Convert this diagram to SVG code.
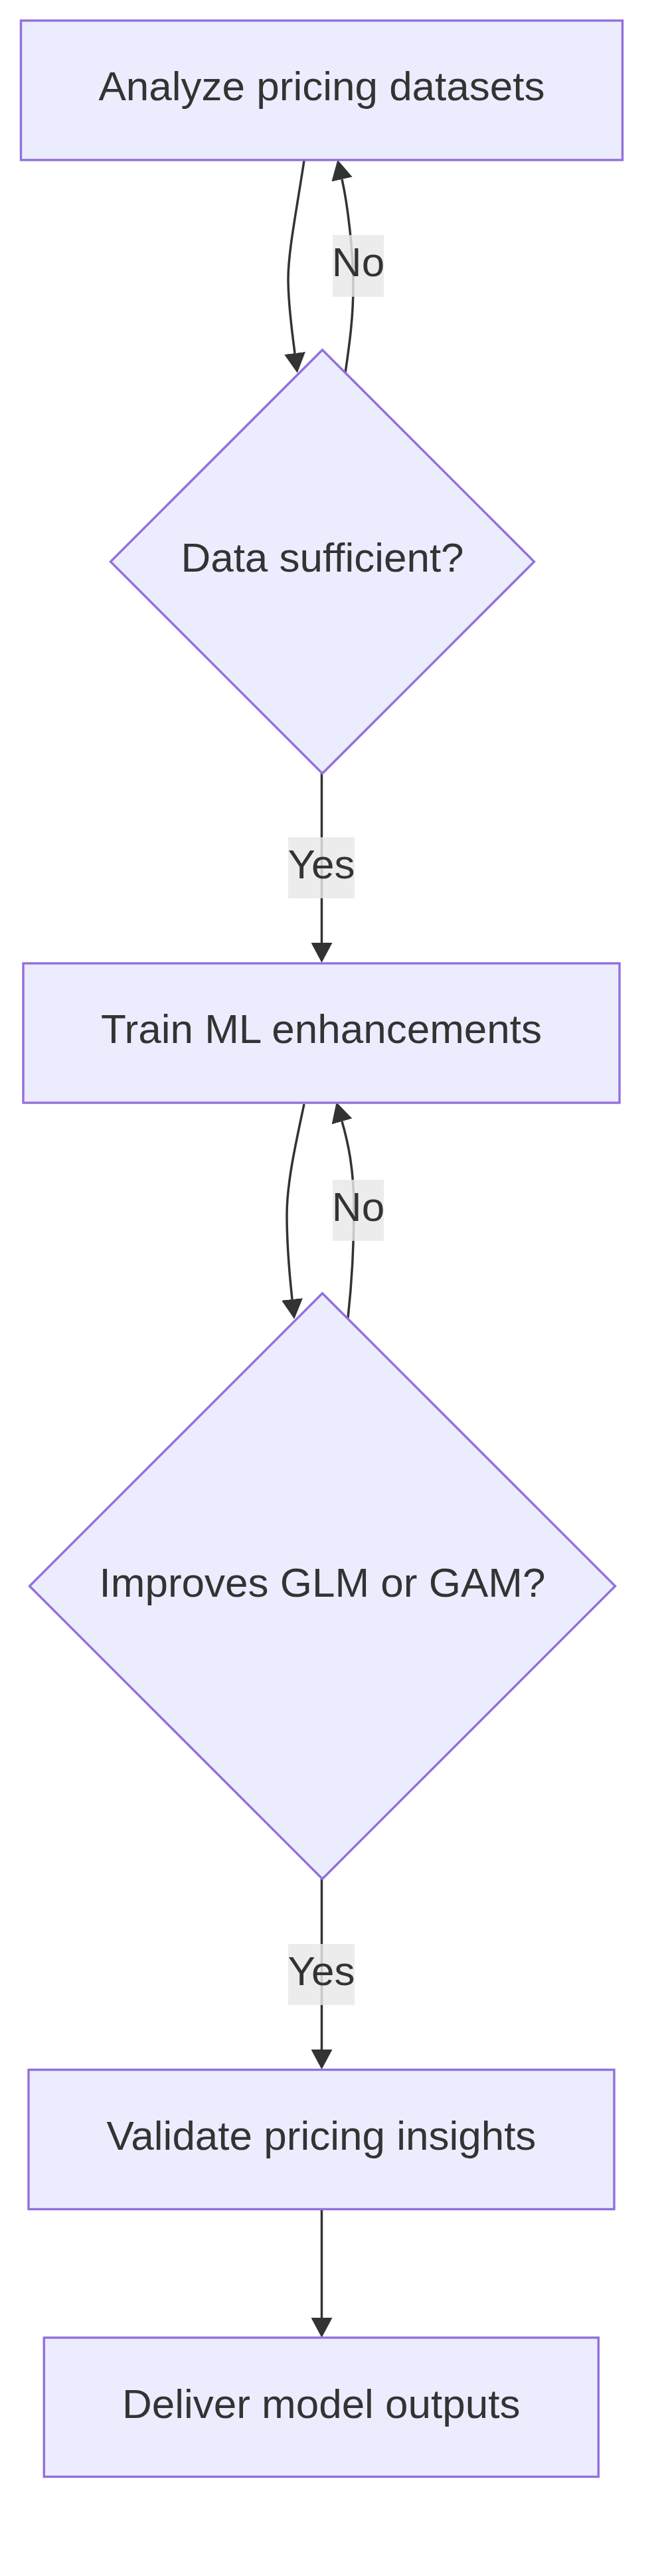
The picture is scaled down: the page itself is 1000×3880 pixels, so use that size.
<svg xmlns="http://www.w3.org/2000/svg" width="1000" height="3880" viewBox="0 0 1000 3880">
<style>
.node{fill:#ECECFF;stroke:#9370DB;stroke-width:3.4}
.lbl{font-family:"Liberation Sans",Arial,sans-serif;font-size:62px;fill:#333333;text-anchor:middle}
.edge{fill:none;stroke:#333333;stroke-width:3.5}
.elbg{fill:#e8e8e8;fill-opacity:0.82}
</style>
<defs>
<marker id="arrow" markerUnits="userSpaceOnUse" markerWidth="30" markerHeight="32" viewBox="0 0 30 32" refX="0" refY="16" orient="auto">
<path d="M0,0 L30,16 L0,32 z" fill="#333333"/>
</marker>
</defs>
<rect width="1000" height="3880" fill="#ffffff"/>
<g id="connectors">
<path class="edge" d="M458,242 C446,320 434,380 434,420 C434,460 440,500 444,532" marker-end="url(#arrow)"/>
<path class="edge" d="M520,562 C526,520 532,480 532,430 C532,380 524,310 515,270" marker-end="url(#arrow)"/>
<path class="edge" d="M484.5,1165 L484.5,1420" marker-end="url(#arrow)"/>
<path class="edge" d="M458,1663 C446,1720 432,1780 432,1830 C432,1880 436,1920 440,1957" marker-end="url(#arrow)"/>
<path class="edge" d="M524,1985 C529,1940 533,1880 533,1820 C533,1760 524,1720 515,1689" marker-end="url(#arrow)"/>
<path class="edge" d="M484.5,2830 L484.5,3087" marker-end="url(#arrow)"/>
<path class="edge" d="M484.5,3328 L484.5,3491" marker-end="url(#arrow)"/>
<g id="label-no-1"><rect class="elbg" x="501" y="354" width="77" height="93"/><text class="lbl" x="539.5" y="415.5">No</text></g>
<g id="label-yes-1"><rect class="elbg" x="434" y="1261" width="100" height="92"/><text class="lbl" x="484" y="1322.5">Yes</text></g>
<g id="label-no-2"><rect class="elbg" x="501" y="1777" width="77" height="92"/><text class="lbl" x="539.5" y="1838.5">No</text></g>
<g id="label-yes-2"><rect class="elbg" x="434" y="2928" width="100" height="92"/><text class="lbl" x="484" y="2989.5">Yes</text></g>
</g>
<g id="analyze">
<rect class="node" x="31.5" y="31" width="906" height="210"/>
<text class="lbl" x="484.5" y="151.2">Analyze pricing datasets</text>
</g>
<g id="data-sufficient">
<polygon class="node" points="485.5,527 804.5,846 485.5,1165 166.5,846"/>
<text class="lbl" x="485.5" y="861.3">Data sufficient?</text>
</g>
<g id="train">
<rect class="node" x="35" y="1451" width="898" height="210"/>
<text class="lbl" x="484" y="1571.3">Train ML enhancements</text>
</g>
<g id="improves">
<polygon class="node" points="485.5,1948 926.5,2389 485.5,2830 44.5,2389"/>
<text class="lbl" x="485.5" y="2404.5">Improves GLM or GAM?</text>
</g>
<g id="validate">
<rect class="node" x="43" y="3117.5" width="882" height="210"/>
<text class="lbl" x="484" y="3237.8">Validate pricing insights</text>
</g>
<g id="deliver">
<rect class="node" x="66.3" y="3521" width="835" height="209.5"/>
<text class="lbl" x="483.7" y="3641.5">Deliver model outputs</text>
</g>
</svg>
